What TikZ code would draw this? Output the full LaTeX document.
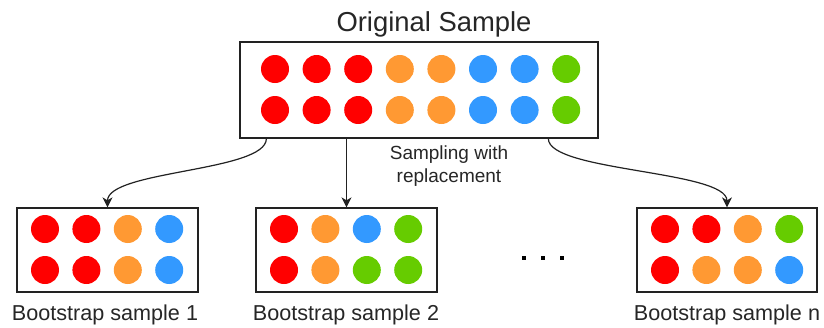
\documentclass[tikz,border=0pt]{standalone}
\usepackage{fontspec}
\setmainfont{Liberation Sans}
\usetikzlibrary{arrows.meta}
\definecolor{cR}{HTML}{FF0000}
\definecolor{cO}{HTML}{FF9933}
\definecolor{cB}{HTML}{3399FF}
\definecolor{cG}{HTML}{66CC00}
\definecolor{edge}{HTML}{222222}
\begin{document}
\begin{tikzpicture}[x=1pt,y=-1pt,
  box/.style={draw=edge, line width=1.3pt, inner sep=0pt},
  dot/.style={circle, inner sep=0pt, minimum size=28pt, fill=#1},
  tick/.style={rectangle, inner sep=0pt, minimum size=4.5pt, fill=black},
  conn/.style={-{Stealth[length=10pt,width=10pt,inset=3pt]}, line width=1.2pt, draw=edge},
  title/.style={font=\fontsize{27.4}{33}\selectfont, anchor=base, text=black!85},
  lbl/.style={font=\fontsize{21.6}{26}\selectfont, anchor=base, text=black!85},
  note/.style={font=\fontsize{19}{22.5}\selectfont, align=center, text=black!85}]
\useasboundingbox (0,0) rectangle (824,327);
% boxes
\node[box, minimum width=358pt, minimum height=96pt] (orig) at (419,90) {};
\node[box, minimum width=181pt, minimum height=84pt] (b1) at (107.5,250) {};
\node[box, minimum width=181pt, minimum height=84pt] (b2) at (346.5,250) {};
\node[box, minimum width=180pt, minimum height=84pt] (b3) at (727,250) {};
% original circles
\foreach \c [count=\i] in {cR,cR,cR,cO,cO,cB,cB,cG} {
  \node[dot=\c] (oa\i) at ({275+41.6*(\i-1)},69) {};
  \node[dot=\c] (ob\i) at ({275+41.6*(\i-1)},110) {};
}
% bootstrap 1
\foreach \c [count=\i] in {cR,cR,cO,cB}
  \node[dot=\c] (pa\i) at ({45+41.4*(\i-1)},229) {};
\foreach \c [count=\i] in {cR,cR,cO,cB}
  \node[dot=\c] (pb\i) at ({45+41.4*(\i-1)},270) {};
% bootstrap 2
\foreach \c [count=\i] in {cR,cO,cB,cG}
  \node[dot=\c] (qa\i) at ({284+41.4*(\i-1)},229) {};
\foreach \c [count=\i] in {cR,cO,cG,cG}
  \node[dot=\c] (qb\i) at ({284+41.4*(\i-1)},270) {};
% bootstrap n
\foreach \c [count=\i] in {cR,cR,cO,cG}
  \node[dot=\c] (ra\i) at ({665+41.4*(\i-1)},229) {};
\foreach \c [count=\i] in {cR,cO,cO,cB}
  \node[dot=\c] (rb\i) at ({665+41.4*(\i-1)},270) {};
% texts
\node[title] (t0) at (434,31) {Original Sample};
\node[lbl] (t1) at (105,320) {Bootstrap sample 1};
\node[lbl] (t2) at (346,320) {Bootstrap sample 2};
\node[lbl] (t3) at (727,320) {Bootstrap sample n};
\node[note] (tn) at (449,166) {Sampling with\\replacement};
% ellipsis
\node[tick] (d1) at (524,258) {};
\node[tick] (d2) at (543,258) {};
\node[tick] (d3) at (562,258) {};
% connectors
\draw[conn] ([xshift=27pt]orig.south west) .. controls +(0,33) and +(0,-37) .. (b1.north);
\draw[conn] (orig.south -| b2.north) -- (b2.north);
\draw[conn] ([xshift=309pt]orig.south west) .. controls +(0,33) and +(0,-37) .. (b3.north);
\end{tikzpicture}
\end{document}
